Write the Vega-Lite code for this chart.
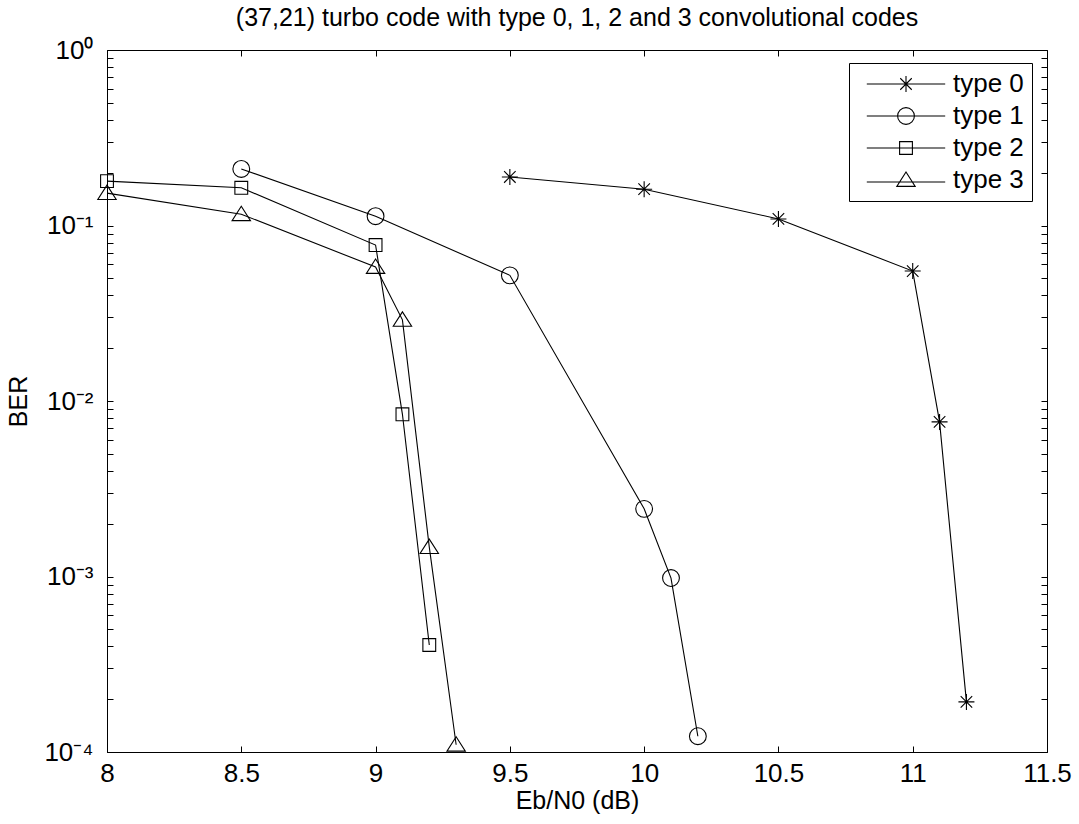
{
  "$schema": "https://vega.github.io/schema/vega-lite/v6.json",
  "width": 940,
  "height": 702,
  "autosize": {"type": "none"},
  "padding": {"left": 107, "top": 50, "right": 32, "bottom": 72},
  "background": "white",
  "config": {
    "font": "Liberation Sans",
    "view": {"stroke": "black", "strokeWidth": 1},
    "axis": {"domainColor": "black", "tickColor": "black", "labelColor": "black", "titleColor": "black", "grid": false, "labelFont": "Liberation Sans", "titleFont": "Liberation Sans", "labelFontSize": 26, "titleFontSize": 25, "titleFontWeight": "normal"}
  },
  "title": {"text": "(37,21) turbo code with type 0, 1, 2 and 3 convolutional codes", "font": "Liberation Sans", "fontSize": 25, "fontWeight": "normal", "color": "black", "offset": 6, "anchor": "middle"},
  "data": {"values": [
    {"snr": 9.5, "ber": 0.189, "series": "type 0"},
    {"snr": 10.0, "ber": 0.161, "series": "type 0"},
    {"snr": 10.5, "ber": 0.109, "series": "type 0"},
    {"snr": 11.0, "ber": 0.055, "series": "type 0"},
    {"snr": 11.1, "ber": 0.0076, "series": "type 0"},
    {"snr": 11.2, "ber": 0.000193, "series": "type 0"},
    {"snr": 8.5, "ber": 0.21, "series": "type 1"},
    {"snr": 9.0, "ber": 0.113, "series": "type 1"},
    {"snr": 9.5, "ber": 0.052, "series": "type 1"},
    {"snr": 10.0, "ber": 0.00243, "series": "type 1"},
    {"snr": 10.1, "ber": 0.00098, "series": "type 1"},
    {"snr": 10.2, "ber": 0.000123, "series": "type 1"},
    {"snr": 8.0, "ber": 0.179, "series": "type 2"},
    {"snr": 8.5, "ber": 0.164, "series": "type 2"},
    {"snr": 9.0, "ber": 0.0774, "series": "type 2"},
    {"snr": 9.1, "ber": 0.0084, "series": "type 2"},
    {"snr": 9.2, "ber": 0.000407, "series": "type 2"},
    {"snr": 8.0, "ber": 0.153, "series": "type 3"},
    {"snr": 8.5, "ber": 0.116, "series": "type 3"},
    {"snr": 9.0, "ber": 0.058, "series": "type 3"},
    {"snr": 9.1, "ber": 0.029, "series": "type 3"},
    {"snr": 9.2, "ber": 0.00147, "series": "type 3"},
    {"snr": 9.3, "ber": 0.00011, "series": "type 3"}
  ]},
  "resolve": {"axis": {"x": "independent", "y": "independent"}, "scale": {"shape": "independent"}},
  "layer": [
    {
      "mark": {"type": "line", "color": "black", "strokeWidth": 1.1},
      "encoding": {
        "x": {"field": "snr", "type": "quantitative", "scale": {"domain": [8, 11.5], "nice": false, "zero": false},
              "axis": {"orient": "bottom", "values": [8, 8.5, 9, 9.5, 10, 10.5, 11, 11.5], "format": "~g", "tickSize": -6, "labelPadding": 14, "title": "Eb/N0 (dB)", "titlePadding": 2, "labelFlush": false}},
        "y": {"field": "ber", "type": "quantitative", "scale": {"type": "log", "domain": [0.0001, 1], "nice": false},
              "axis": {"orient": "left", "values": [1, 0.9, 0.8, 0.7, 0.6, 0.5, 0.4, 0.3, 0.2, 0.1, 0.09, 0.08, 0.07, 0.06, 0.05, 0.04, 0.03, 0.02, 0.01, 0.009, 0.008, 0.007, 0.006, 0.005, 0.004, 0.003, 0.002, 0.001, 0.0009, 0.0008, 0.0007, 0.0006, 0.0005, 0.0004, 0.0003, 0.0002, 0.0001],
                       "labelExpr": "abs(log(datum.value)/LN10 - round(log(datum.value)/LN10)) > 0.01 ? '' : (round(log(datum.value)/LN10) == 0 ? '10⁰' : round(log(datum.value)/LN10) == -1 ? '10⁻¹' : round(log(datum.value)/LN10) == -2 ? '10⁻²' : round(log(datum.value)/LN10) == -3 ? '10⁻³' : '10⁻⁴')",
                       "tickSize": -6, "labelPadding": 20, "title": "BER", "titlePadding": 12, "labelFlush": false}},
        "detail": {"field": "series", "type": "nominal"}
      }
    },
    {
      "mark": {"type": "point", "filled": false, "color": "black", "strokeWidth": 1.1, "size": 256, "opacity": 1},
      "encoding": {
        "x": {"field": "snr", "type": "quantitative",
              "axis": {"orient": "top", "values": [8, 8.5, 9, 9.5, 10, 10.5, 11, 11.5], "tickSize": -6, "labels": false, "title": null, "domain": false}},
        "y": {"field": "ber", "type": "quantitative",
              "axis": {"orient": "right", "values": [1, 0.9, 0.8, 0.7, 0.6, 0.5, 0.4, 0.3, 0.2, 0.1, 0.09, 0.08, 0.07, 0.06, 0.05, 0.04, 0.03, 0.02, 0.01, 0.009, 0.008, 0.007, 0.006, 0.005, 0.004, 0.003, 0.002, 0.001, 0.0009, 0.0008, 0.0007, 0.0006, 0.0005, 0.0004, 0.0003, 0.0002, 0.0001], "tickSize": -6, "labels": false, "title": null, "domain": false}},
        "shape": {"field": "series", "type": "nominal", "legend": null,
          "scale": {"domain": ["type 0", "type 1", "type 2", "type 3"],
                    "range": ["M-1,0H1M0,-1V1M-0.72,-0.72L0.72,0.72M-0.72,0.72L0.72,-0.72",
                              "M1.05,0A1.05,1.05,0,1,1,-1.05,0A1.05,1.05,0,1,1,1.05,0Z",
                              "M-0.8,-0.8H0.8V0.8H-0.8Z",
                              "M0,-1L1.15,0.8H-1.15Z"]}}
      }
    },
    {
      "mark": {"type": "point", "filled": false, "color": "black", "strokeWidth": 1.1, "size": 256, "opacity": 0},
      "encoding": {
        "x": {"field": "snr", "type": "quantitative", "axis": null},
        "y": {"field": "ber", "type": "quantitative", "axis": null},
        "shape": {"field": "series", "type": "nominal",
          "scale": {"domain": ["type 0", "type 1", "type 2", "type 3"],
                    "range": ["M-4.9,0H4.9M-1,0H1M0,-1V1M-0.72,-0.72L0.72,0.72M-0.72,0.72L0.72,-0.72",
                              "M-4.9,0H4.9M1.05,0A1.05,1.05,0,1,1,-1.05,0A1.05,1.05,0,1,1,1.05,0Z",
                              "M-4.9,0H4.9M-0.8,-0.8H0.8V0.8H-0.8Z",
                              "M-4.9,0.25H4.9M0,-1L1.15,0.8H-1.15Z"]},
          "legend": {"orient": "none", "legendX": 742, "legendY": 13, "title": null, "strokeColor": "black", "fillColor": "white", "padding": 8,
                     "labelFont": "Liberation Sans", "labelFontSize": 26, "labelColor": "black", "labelOffset": 34, "symbolOffset": 36, "rowPadding": 6,
                     "symbolSize": 256, "symbolStrokeColor": "black", "symbolFillColor": "transparent", "symbolStrokeWidth": 1.1, "symbolOpacity": 1}
        }
      }
    }
  ]
}
